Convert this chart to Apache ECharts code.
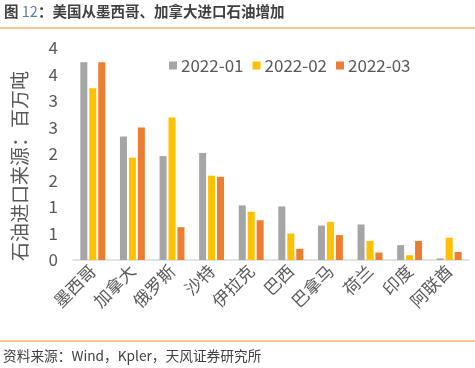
<!DOCTYPE html>
<html><head><meta charset="utf-8">
<script src="https://cdn.jsdelivr.net/npm/echarts@6/dist/echarts.min.js"></script>
<style>html,body{margin:0;padding:0;background:#fff}#c{width:475px;height:368px}</style>
</head><body><div id="c"></div>
<script>
const categories = ['墨西哥','加拿大','俄罗斯','沙特','伊拉克','巴西','巴拿马','荷兰','印度','阿联酋'];
const seriesNames = ['2022-01','2022-02','2022-03'];
const jan = [3.73, 2.33, 1.96, 2.02, 1.03, 1.01, 0.65, 0.67, 0.28, 0.03];
const feb = [3.24, 1.93, 2.69, 1.59, 0.91, 0.50, 0.72, 0.36, 0.09, 0.42];
const mar = [3.73, 2.50, 0.62, 1.57, 0.75, 0.21, 0.47, 0.14, 0.36, 0.15];
const colors = ['#A5A5A5','#FFC000','#ED7D31'];
const yName = '石油进口来源：百万吨';
const title = '12';
const source = '资料来源：Wind，Kpler，天风证券研究所';

const font = '"Microsoft YaHei","Noto Sans CJK SC","Liberation Sans",sans-serif';
const chart = echarts.init(document.getElementById('c'));
const mk = (name, data, i) => ({
  name, type:'bar', data, barWidth:7, barGap:'28%',
  itemStyle:{color:colors[i]}
});
chart.setOption({
  animation:false,
  textStyle:{fontFamily:font},
  graphic:[
    {type:'text', left:4, top:4, style:{
      text:'{a|图 }{b|' + title + '}{a|：美国从墨西哥、加拿大进口石油增加}',
      rich:{a:{fontSize:14.5,fontWeight:'bold',fill:'#404040',fontFamily:font},
            b:{fontSize:14.5,fill:'#5B7FA6',fontFamily:font}}}},
    {type:'line', shape:{x1:0,y1:28,x2:475,y2:28}, style:{stroke:'#F08A24',lineWidth:1}},
    {type:'line', shape:{x1:0,y1:341,x2:475,y2:341}, style:{stroke:'#F08A24',lineWidth:1}},
    {type:'text', left:3, top:349, style:{text:source,fontSize:13.7,fill:'#404040',fontFamily:font}},
    {type:'text', x:20, y:166, rotation:Math.PI/2, style:{text:yName,fontSize:19,fill:'#595959',
      fontFamily:font, align:'center', verticalAlign:'middle'}}
  ],
  legend:{
    data:seriesNames, left:164, top:52, itemWidth:8, itemHeight:8, itemGap:9,
    icon:'rect',
    textStyle:{fontSize:17,color:'#595959',padding:[0,0,0,-1]}
  },
  grid:{left:73, right:6, top:48, bottom:108},
  xAxis:{
    type:'category', data:categories,
    axisLine:{lineStyle:{color:'#D9D9D9',width:1.5}},
    axisTick:{show:false},
    axisLabel:{rotate:45, fontSize:17, color:'#595959', margin:8, interval:0}
  },
  yAxis:{
    type:'value', min:0, max:4, interval:0.5,
    axisLine:{show:false}, axisTick:{show:false}, splitLine:{show:false},
    axisLabel:{fontSize:17,color:'#595959',margin:15, formatter:v=>String(Math.round(v))}
  },
  series:[mk(seriesNames[0],jan,0), mk(seriesNames[1],feb,1), mk(seriesNames[2],mar,2)]
});
</script></body></html>
